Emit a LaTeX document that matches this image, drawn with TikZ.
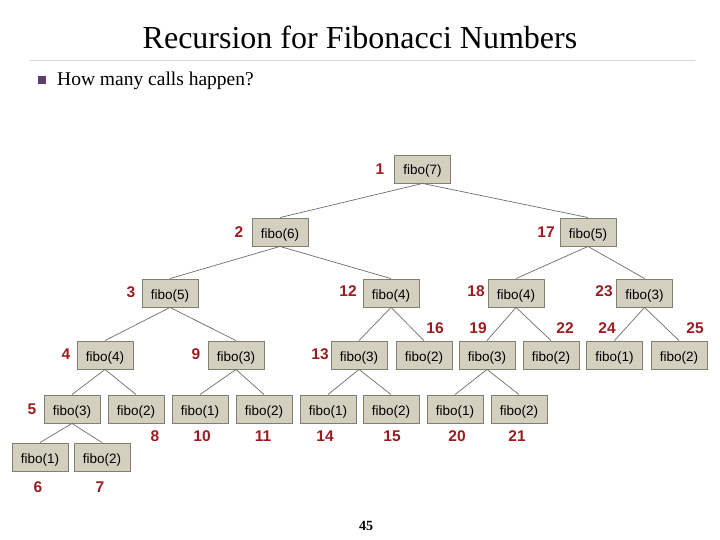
\documentclass[tikz,border=0pt]{standalone}
\usepackage{fontspec}
\setmainfont{Liberation Serif}
\newfontfamily\arialf{Liberation Sans}
\definecolor{boxfill}{RGB}{212,208,192}
\definecolor{boxline}{RGB}{128,128,112}
\definecolor{numred}{RGB}{155,28,32}
\definecolor{edgegray}{RGB}{110,110,100}
\definecolor{bulletpurple}{RGB}{94,58,110}
\definecolor{rulegray}{RGB}{215,215,215}
\begin{document}
\begin{tikzpicture}[x=1pt,y=-1pt,
  fbox/.style={draw=boxline,fill=boxfill,line width=0.9pt,minimum width=56pt,minimum height=28pt,inner sep=0pt,text height=12.5pt,text depth=0.5pt,font=\arialf\fontsize{13.5}{14}\selectfont},
  num/.style={text=numred,font=\arialf\bfseries\fontsize{15.5}{16}\selectfont,inner sep=0pt},
  edge/.style={draw=edgegray,line width=0.7pt}]
\useasboundingbox (0,0) rectangle (720,540);
% title
\node (title) at (360,37) {\fontsize{32}{36}\selectfont Recursion for Fibonacci Numbers};
\draw[rulegray,line width=0.8pt] (30,60) coordinate (r1) -- (695,60) coordinate (r2);
\node[fill=bulletpurple,minimum size=8pt,inner sep=0pt] (bullet) at (42,80) {};
\node[anchor=west,inner sep=0pt] (q) at (57,81) {\fontsize{19.5}{22}\selectfont How many calls happen?};
% nodes
\node[fbox] (n1) at (422.5,169) {fibo(7)};
\node[fbox] (n2) at (280,232) {fibo(6)};
\node[fbox] (n17) at (588,232) {fibo(5)};
\node[fbox] (n3) at (170,293) {fibo(5)};
\node[fbox] (n12) at (391,293) {fibo(4)};
\node[fbox] (n18) at (516,293) {fibo(4)};
\node[fbox] (n23) at (644.5,293) {fibo(3)};
\node[fbox] (n4) at (105,355) {fibo(4)};
\node[fbox] (n9) at (236,355) {fibo(3)};
\node[fbox] (n13) at (359,355) {fibo(3)};
\node[fbox] (n16) at (424,355) {fibo(2)};
\node[fbox] (n19) at (487,355) {fibo(3)};
\node[fbox] (n22) at (551,355) {fibo(2)};
\node[fbox] (n24) at (614.5,355) {fibo(1)};
\node[fbox] (n25) at (679,355) {fibo(2)};
\node[fbox] (n5) at (72,409) {fibo(3)};
\node[fbox] (n8) at (136,409) {fibo(2)};
\node[fbox] (n10) at (200,409) {fibo(1)};
\node[fbox] (n11) at (264,409) {fibo(2)};
\node[fbox] (n14) at (328,409) {fibo(1)};
\node[fbox] (n15) at (391,409) {fibo(2)};
\node[fbox] (n20) at (455,409) {fibo(1)};
\node[fbox] (n21) at (519,409) {fibo(2)};
\node[fbox] (n6) at (40,457) {fibo(1)};
\node[fbox] (n7) at (102,457) {fibo(2)};
% edges
\foreach \p/\c in {n1/n2,n1/n17,n2/n3,n2/n12,n3/n4,n3/n9,n4/n5,n4/n8,n5/n6,n5/n7,n9/n10,n9/n11,n12/n13,n12/n16,n13/n14,n13/n15,n17/n18,n17/n23,n18/n19,n18/n22,n19/n20,n19/n21,n23/n24,n23/n25}
  \draw[edge] (\p.south) -- (\c.north);
% numbers
\node[num] (l1) at (380,169) {1};
\node[num] (l2) at (239,232) {2};
\node[num] (l17) at (546,232) {17};
\node[num] (l3) at (131,292) {3};
\node[num] (l12) at (348,291) {12};
\node[num] (l18) at (476,291) {18};
\node[num] (l23) at (604,291) {23};
\node[num] (l4) at (66,354) {4};
\node[num] (l9) at (196,354) {9};
\node[num] (l13) at (320,354) {13};
\node[num] (l16) at (435,328) {16};
\node[num] (l19) at (478,328) {19};
\node[num] (l22) at (565,328) {22};
\node[num] (l24) at (607,328) {24};
\node[num] (l25) at (695,328) {25};
\node[num] (l5) at (32,409) {5};
\node[num] (l8) at (155,436) {8};
\node[num] (l10) at (202,436) {10};
\node[num] (l11) at (263,436) {11};
\node[num] (l14) at (325,436) {14};
\node[num] (l15) at (392,436) {15};
\node[num] (l20) at (457,436) {20};
\node[num] (l21) at (517,436) {21};
\node[num] (l6) at (38,487) {6};
\node[num] (l7) at (100,487) {7};
\node[font=\bfseries\fontsize{14}{16}\selectfont] (total) at (366,526) {45};
\end{tikzpicture}
\end{document}
